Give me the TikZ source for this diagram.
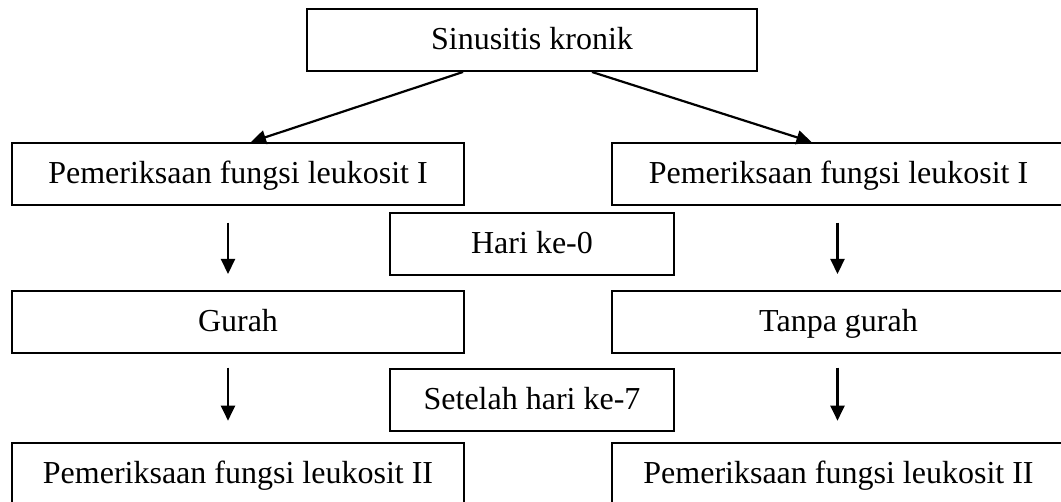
\documentclass[tikz,border=0pt]{standalone}
\usepackage{fontspec}
\setmainfont{Liberation Serif}
\usetikzlibrary{arrows.meta}
\begin{document}
\begin{tikzpicture}[x=1pt,y=1pt,
 box/.style={draw=black,line width=2pt,inner sep=0pt,minimum height=62pt,text height=20pt,text depth=0pt,font=\fontsize{32}{38}\selectfont},
 widebox/.style={box,minimum width=452pt},
 midbox/.style={box,minimum width=284pt},
 arr/.style={line width=2.2pt,-{Triangle[width=14pt,length=15pt]}}]
\useasboundingbox (0,0) rectangle (1061,502);
\clip (0,0) rectangle (1061,502);
\node[box,minimum width=450pt] (top) at (532,462) {Sinusitis kronik};
\node[widebox] (l1) at (238,328) {Pemeriksaan fungsi leukosit I};
\node[widebox,minimum width=453pt] (r1) at (838.5,328) {Pemeriksaan fungsi leukosit I};
\node[midbox] (h0) at (532,258) {Hari ke-0};
\node[widebox] (l2) at (238,180) {Gurah};
\node[widebox,minimum width=453pt] (r2) at (838.5,180) {Tanpa gurah};
\node[midbox] (h7) at (532,102) {Setelah hari ke-7};
\node[widebox] (l3) at (238,28) {Pemeriksaan fungsi leukosit II};
\node[widebox,minimum width=453pt] (r3) at (838.5,28) {Pemeriksaan fungsi leukosit II};
\draw[arr] ([xshift=-69pt]top.south) -- ([xshift=13pt]l1.north);
\draw[arr] ([xshift=60pt]top.south) -- ([xshift=-27pt]r1.north);
\draw[arr] ([xshift=-10pt,yshift=-16.7pt]l1.south) -- ([xshift=-10pt,yshift=16pt]l2.north);
\draw[arr] ([xshift=-1pt,yshift=-16.7pt]r1.south) -- ([xshift=-1pt,yshift=16pt]r2.north);
\draw[arr] ([xshift=-10pt,yshift=-13.7pt]l2.south) -- ([xshift=-10pt,yshift=21.3pt]l3.north);
\draw[arr] ([xshift=-1pt,yshift=-13.7pt]r2.south) -- ([xshift=-1pt,yshift=21.3pt]r3.north);
\end{tikzpicture}
\end{document}
